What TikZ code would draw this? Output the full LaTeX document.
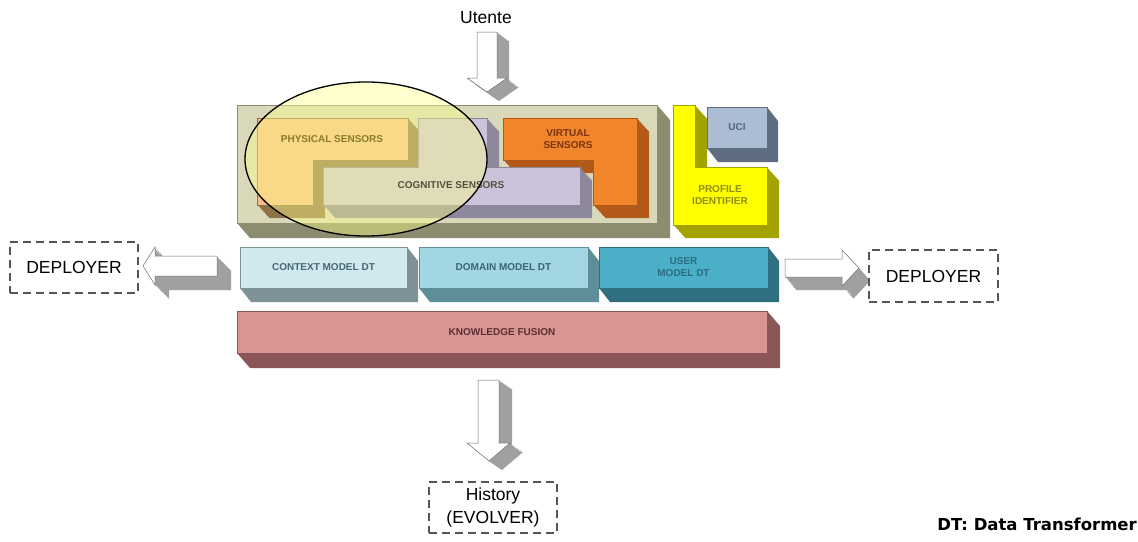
\documentclass[tikz,border=0pt]{standalone}
\usepackage{fontspec}
\setsansfont{Liberation Sans}
\newfontfamily\legendfont{DejaVu Sans}
\usepackage{tikz}
\definecolor{boxfront}{HTML}{D9D9BA}
\definecolor{boxdepth}{HTML}{8C8C70}
\definecolor{physfront}{HTML}{F6BC86}
\definecolor{physdepth}{HTML}{8E7445}
\definecolor{phystext}{HTML}{8A7A2E}
\definecolor{cogfront}{HTML}{CBC3DB}
\definecolor{cogdepth}{HTML}{8E889C}
\definecolor{cogtext}{HTML}{55503A}
\definecolor{virtfront}{HTML}{F0852A}
\definecolor{virtdepth}{HTML}{B35A1A}
\definecolor{virttext}{HTML}{7A3414}
\definecolor{proffront}{HTML}{FFFF00}
\definecolor{profdepth}{HTML}{A3A300}
\definecolor{proftext}{HTML}{8E8E10}
\definecolor{ucifront}{HTML}{AABDD3}
\definecolor{ucidepth}{HTML}{5E6E80}
\definecolor{ucitext}{HTML}{56657A}
\definecolor{ctxfront}{HTML}{CFE9EF}
\definecolor{ctxdepth}{HTML}{7D9196}
\definecolor{ctxtext}{HTML}{4A6670}
\definecolor{domfront}{HTML}{A3D6E3}
\definecolor{domdepth}{HTML}{5E8F99}
\definecolor{domtext}{HTML}{3A6470}
\definecolor{userfront}{HTML}{4BAFC8}
\definecolor{userdepth}{HTML}{2F6F80}
\definecolor{usertext}{HTML}{2A6E80}
\definecolor{kfront}{HTML}{D99494}
\definecolor{kdepth}{HTML}{8A5656}
\definecolor{ktext}{HTML}{5A3030}
\definecolor{arrowdepth}{HTML}{A0A0A0}
\definecolor{arrowedge}{HTML}{6E6E6E}
\definecolor{dashgrey}{HTML}{555555}
\definecolor{lensfill}{HTML}{FFFF89}
\newcommand{\slabdepth}[4]{%
    \fill[#2] (#1.north east) -- ++(#3,#4) -- ([shift={(#3,#4)}]#1.south east)
        -- ([shift={(#3,#4)}]#1.south west) -- (#1.south west) -- (#1.south east) -- cycle;}
\newcommand{\solidshape}[5]{%
    \foreach \k in {1,...,12}{\fill[#2, shift={({\k*#3/12},{\k*#4/12})}] #5;}
    \filldraw[#1, line width=0.5pt] #5;}
\tikzset{
    slabnode/.style = {
        align=center,
        rectangle,
        inner sep=0pt,
        outer sep=0pt,
        line width=0.5pt,
        font=\fontsize{10}{12}\selectfont\sffamily\bfseries
    },
    slablabel/.style = {
        align=center,
        inner sep=0pt,
        font=\fontsize{10}{12}\selectfont\sffamily\bfseries
    },
    deployernode/.style = {
        align=center,
        rectangle,
        draw=dashgrey,
        dash pattern=on 8pt off 5pt,
        line width=1.1pt,
        inner sep=0pt,
        font=\fontsize{17.5}{23}\selectfont\sffamily
    },
    arrowface/.style = {
        fill=white,
        draw=arrowedge
    }
}
\begin{document}
\begin{tikzpicture}[x=1pt, y=-1pt]
    \useasboundingbox (0,0) rectangle (1138,541);
    \node [font=\fontsize{17.5}{21}\selectfont\sffamily, inner sep=0pt] (utente) at (486,18) {Utente};
    \solidshape{arrowface}{arrowdepth}{12}{9}{(477,32) -- (497,32) -- (497,78) -- (507,78) -- (487,92) -- (467,78) -- (477,78) -- cycle}
    \node [slabnode, fill=boxfront, draw=boxdepth, minimum width=420pt, minimum height=118pt] (sensorbox) at (447,164) {};
    \slabdepth{sensorbox}{boxdepth}{13}{15}
    \solidshape{fill=physfront, draw=physdepth}{physdepth}{12}{13}{(257,118) -- (408,118) -- (408,160) -- (313,160) -- (313,205) -- (257,205) -- cycle}
    \solidshape{fill=virtfront, draw=virtdepth}{virtdepth}{12}{13}{(503,118) -- (637,118) -- (637,205) -- (593,205) -- (593,160) -- (503,160) -- cycle}
    \solidshape{fill=cogfront, draw=cogdepth}{cogdepth}{12}{13}{(418,118) -- (487,118) -- (487,167) -- (580,167) -- (580,205) -- (323,205) -- (323,167) -- (418,167) -- cycle}
    \solidshape{fill=proffront, draw=profdepth}{profdepth}{12}{13}{(673,105) -- (695,105) -- (695,167) -- (767,167) -- (767,225) -- (673,225) -- cycle}
    \node [slablabel, text=proftext] (profile) at (720,195) {PROFILE\\IDENTIFIER};
    \node [slabnode, fill=ucifront, draw=ucidepth, text=ucitext, minimum width=60pt, minimum height=41pt] (uci) at (737,127.5) {UCI};
    \slabdepth{uci}{ucidepth}{11}{14}
    \fill [lensfill, fill opacity=0.42] (366,159) ellipse [x radius=121, y radius=77];
    \node [slablabel, text=phystext] (physical) at (332,139) {PHYSICAL SENSORS};
    \node [slablabel, text=virttext] (virtual) at (568,139) {VIRTUAL\\SENSORS};
    \node [slablabel, text=cogtext] (cognitive) at (451,185) {COGNITIVE SENSORS};
    \draw [line width=1.3pt] (366,159) ellipse [x radius=121, y radius=77];
    \node [slabnode, fill=ctxfront, draw=ctxdepth, text=ctxtext, minimum width=167pt, minimum height=41pt] (context) at (323.5,267.5) {CONTEXT MODEL DT};
    \slabdepth{context}{ctxdepth}{11}{14}
    \node [slabnode, fill=domfront, draw=domdepth, text=domtext, minimum width=169pt, minimum height=41pt] (domain) at (503.5,267.5) {DOMAIN MODEL DT};
    \slabdepth{domain}{domdepth}{11}{14}
    \node [slabnode, fill=userfront, draw=userdepth, text=usertext, minimum width=169pt, minimum height=41pt] (user) at (683.5,267.5) {USER\\MODEL DT};
    \slabdepth{user}{userdepth}{11}{14}
    \node [slabnode, fill=kfront, draw=kdepth, text=ktext, minimum width=530pt, minimum height=42pt] (knowledge) at (502,332) {KNOWLEDGE FUSION};
    \slabdepth{knowledge}{kdepth}{13}{15}
    \solidshape{arrowface}{arrowdepth}{14}{14}{(143,266) -- (155,247) -- (155,256) -- (217,256) -- (217,276) -- (155,276) -- (155,285) -- cycle}
    \solidshape{arrowface}{arrowdepth}{11}{13}{(785,259) -- (842,259) -- (842,250) -- (859,268) -- (842,286) -- (842,277) -- (785,277) -- cycle}
    \solidshape{arrowface}{arrowdepth}{13}{9}{(478,380) -- (499,380) -- (499,443) -- (510,443) -- (489,461) -- (467,443) -- (478,443) -- cycle}
    \node [deployernode, minimum width=128pt, minimum height=51pt] (deployerleft) at (74,267.5) {DEPLOYER};
    \node [deployernode, minimum width=129pt, minimum height=52pt] (deployerright) at (933.5,276) {DEPLOYER};
    \node [deployernode, minimum width=128pt, minimum height=51pt] (history) at (493,507.5) {History\\(EVOLVER)};
    \node [anchor=east, inner sep=0pt, font=\fontsize{16.5}{20}\selectfont\legendfont\bfseries] (legend) at (1137,524) {DT: Data Transformer};
\end{tikzpicture}
\end{document}
